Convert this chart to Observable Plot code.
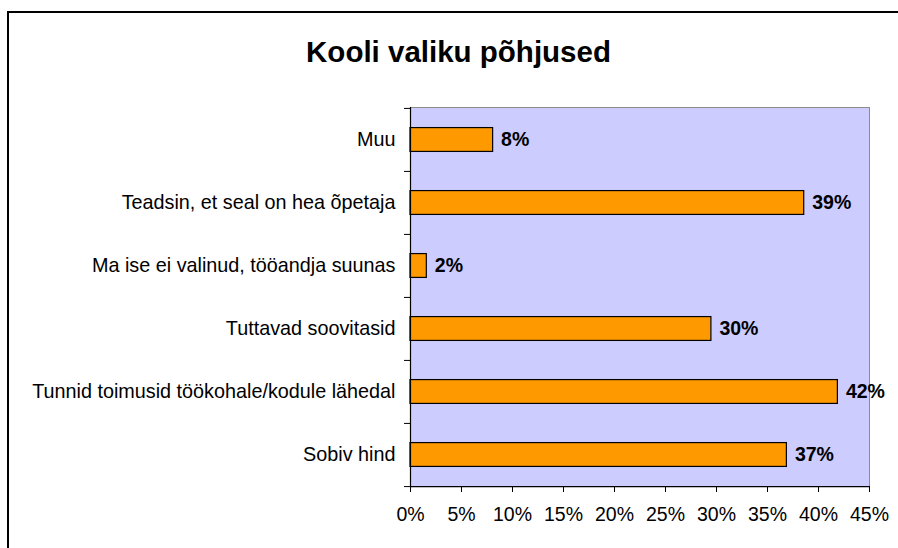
<!DOCTYPE html>
<html>
<head>
<meta charset="utf-8">
<script src="https://cdn.jsdelivr.net/npm/d3@7"></script>
<script src="https://cdn.jsdelivr.net/npm/@observablehq/plot@0.6"></script>
<style>
  html, body { margin: 0; padding: 0; background: #fff; }
  #chart { width: 898px; height: 548px; overflow: hidden; }
  svg { font-family: "Liberation Sans", Arial, sans-serif; }
</style>
</head>
<body>
<div id="chart"></div>
<script>
const title = "Kooli valiku põhjused";
const categories = [
  "Muu",
  "Teadsin, et seal on hea õpetaja",
  "Ma ise ei valinud, tööandja suunas",
  "Tuttavad soovitasid",
  "Tunnid toimusid töökohale/kodule lähedal",
  "Sobiv hind"
];
const values = [8.1, 38.6, 1.6, 29.5, 41.9, 36.9];
const valueLabels = ["8%", "39%", "2%", "30%", "42%", "37%"];
const xTicks = [0, 5, 10, 15, 20, 25, 30, 35, 40, 45];

const data = categories.map((c, i) => ({category: c, value: values[i], label: valueLabels[i]}));

const W = 898, H = 548, mt = 107, mb = 62, ml = 410, mr = 29;
const bw = (H - mt - mb) / categories.length;
const barH = 24;
const inset = (bw - barH) / 2;

const chart = Plot.plot({
  width: W,
  height: H,
  marginTop: mt,
  marginBottom: mb,
  marginLeft: ml,
  marginRight: mr,
  style: {fontFamily: '"Liberation Sans", Arial, sans-serif', background: "white", overflow: "visible"},
  x: {domain: [0, 45]},
  y: {domain: categories, padding: 0},
  marks: [
    Plot.frame({fill: "#CCCCFF", stroke: "#8c8c8c", strokeWidth: 1}),
    Plot.barX(data, {
      x: "value", y: "category",
      fill: "#FF9900", stroke: "black", strokeWidth: 1.2,
      insetTop: inset, insetBottom: inset
    }),
    Plot.text(data, {
      x: "value", y: "category", text: "label",
      textAnchor: "start", dx: 8, fontWeight: "bold", fontSize: 19.5, fill: "black"
    }),
    Plot.ruleX([0], {stroke: "black", strokeWidth: 1.2}),
    Plot.ruleY(categories.slice(-1), {dy: bw / 2, stroke: "black", strokeWidth: 1.2}),
    Plot.axisY({tickSize: 6, text: null, dy: -bw / 2, stroke: "black", label: null}),
    Plot.axisY(categories.slice(-1), {tickSize: 6, text: null, dy: bw / 2, stroke: "black", label: null}),
    Plot.axisY({tickSize: 0, tickPadding: 15, fontSize: 19.8, fill: "black", label: null}),
    Plot.axisX({
      ticks: xTicks, tickSize: 6, tickPadding: 15,
      tickFormat: d => d + "%", fontSize: 19.5, fill: "black", stroke: "black", label: null
    }),
    Plot.text([title], {
      frameAnchor: "top", dx: 458 - (ml + (W - ml - mr) / 2), dy: 61 - mt,
      lineAnchor: "bottom", textAnchor: "middle",
      fontSize: 29.5, fontWeight: "bold", fill: "black"
    })
  ]
});

document.getElementById("chart").appendChild(chart);

// outer chart border (extends beyond the visible area on right and bottom)
d3.select(chart).append("rect")
  .attr("x", 8).attr("y", 12)
  .attr("width", 900).attr("height", 560)
  .attr("fill", "none").attr("stroke", "black").attr("stroke-width", 2);
</script>
</body>
</html>
